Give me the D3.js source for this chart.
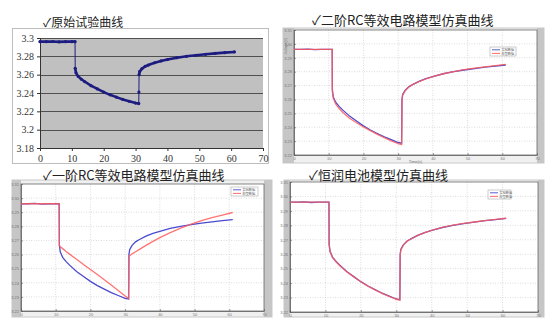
<!DOCTYPE html>
<html>
<head>
<meta charset="utf-8">
<script src="https://cdn.jsdelivr.net/npm/d3@7/dist/d3.min.js"></script>
<style>
  body { margin: 0; background: #fff; }
  svg { display: block; }
</style>
</head>
<body>
<div class="vis"></div>
<script>
// time (s), shared by every series
const timeS = [0, 2, 4, 6, 8, 10, 11, 11.05, 11.3, 12, 13, 14, 16, 18, 20, 22, 24, 26, 28, 30, 31,
  31.05, 31.1, 31.3, 32, 33, 34, 36, 38, 40, 43, 46, 49, 52, 55, 58, 61];
// 原始试验数据
const expVolt = [3.296, 3.296, 3.2962, 3.2958, 3.296, 3.296, 3.296, 3.267, 3.262, 3.258, 3.255, 3.2525,
  3.248, 3.2445, 3.241, 3.238, 3.2355, 3.233, 3.231, 3.229, 3.2285,
  3.241, 3.26, 3.2635, 3.2665, 3.269, 3.2705, 3.273, 3.275, 3.2765, 3.2785, 3.28, 3.2812, 3.2822,
  3.2832, 3.284, 3.2848];
// 二阶RC模型
const rc2Volt = [3.296, 3.296, 3.296, 3.296, 3.296, 3.296, 3.296, 3.266, 3.261, 3.2568, 3.2535, 3.2508,
  3.2465, 3.2432, 3.2402, 3.2375, 3.2348, 3.2325, 3.2302, 3.2282, 3.2275,
  3.24, 3.259, 3.263, 3.2662, 3.2688, 3.2705, 3.2728, 3.2748, 3.2764, 3.2785, 3.2801, 3.2814, 3.2825,
  3.2835, 3.2844, 3.2852];
// 一阶RC模型
const rc1Volt = [3.296, 3.296, 3.296, 3.296, 3.296, 3.296, 3.296, 3.2662, 3.2655, 3.2642, 3.2622, 3.2603,
  3.2566, 3.253, 3.2494, 3.2458, 3.2421, 3.2384, 3.2346, 3.2307, 3.2288,
  3.2588, 3.2589, 3.2592, 3.2605, 3.262, 3.2635, 3.2665, 3.2693, 3.272, 3.2755, 3.2787, 3.2815, 3.284,
  3.2862, 3.288, 3.2898];
// 恒润电池模型
const hrVolt = [3.296, 3.296, 3.296, 3.296, 3.296, 3.296, 3.296, 3.2665, 3.2618, 3.2578, 3.2548, 3.2522,
  3.2478, 3.2443, 3.2409, 3.2379, 3.2353, 3.2329, 3.2308, 3.2288, 3.2282,
  3.242, 3.2595, 3.2632, 3.2663, 3.2689, 3.2704, 3.2729, 3.2749, 3.2765, 3.2786, 3.2801, 3.2813, 3.2823,
  3.2833, 3.2841, 3.2849];

const xTicks = [0, 10, 20, 30, 40, 50, 60, 70];
const yTicksExcel = [3.18, 3.2, 3.22, 3.24, 3.26, 3.28, 3.3];
const yTicksSim = [3.22, 3.23, 3.24, 3.25, 3.26, 3.27, 3.28, 3.29, 3.3, 3.31];
const titles = ['✓原始试验曲线', '✓二阶RC等效电路模型仿真曲线', '✓一阶RC等效电路模型仿真曲线', '✓恒润电池模型仿真曲线'];
const legendNames = ['实验数据', '模型数据'];

const W = 554, H = 331;
const cjk = '"Noto Sans CJK SC", "DejaVu Sans", sans-serif';
const svg = d3.select('.vis').append('svg').attr('width', W).attr('height', H);

const pts = (vals) => timeS.map((t, i) => [t, vals[i]]);

// ---- panel 1: Excel style ----
function drawExcel() {
  const g = svg.append('g');
  g.append('rect').attr('x', 12.5).attr('y', 28.5).attr('width', 256).attr('height', 135)
    .attr('fill', '#fff').attr('stroke', '#bdbdbd');
  const x = d3.scaleLinear().domain([0, 70]).range([40, 263]);
  const y = d3.scaleLinear().domain([3.18, 3.3]).range([148, 38]);
  g.append('rect').attr('x', 40).attr('y', 38).attr('width', 223).attr('height', 110).attr('fill', '#c0c0c0');
  g.selectAll('line.grid').data(yTicksExcel.slice(1)).enter().append('line')
    .attr('x1', 40).attr('x2', 263).attr('y1', d => Math.round(y(d)) + 0.5).attr('y2', d => Math.round(y(d)) + 0.5)
    .attr('stroke', '#505050').attr('stroke-width', 1);

  const xa = g.append('g').attr('transform', 'translate(0,148)')
    .call(d3.axisBottom(x).tickValues(xTicks).tickSize(3).tickPadding(4));
  const ya = g.append('g').attr('transform', 'translate(40,0)')
    .call(d3.axisLeft(y).tickValues(yTicksExcel).tickSize(3).tickPadding(3).tickFormat(d3.format('')));
  [xa, ya].forEach(a => {
    a.select('.domain').attr('stroke', '#333');
    a.selectAll('.tick line').attr('stroke', '#333');
    a.selectAll('text').attr('font-family', '"Liberation Serif", "DejaVu Serif", serif')
      .attr('font-size', 10).attr('fill', '#333');
  });

  const data = pts(expVolt);
  const line = d3.line().x(d => x(d[0])).y(d => y(d[1]));
  g.append('path').attr('d', line(data)).attr('fill', 'none').attr('stroke', '#1c1c80').attr('stroke-width', 1);
  // thicker runs where consecutive samples are close (marker-dense look)
  const runs = [[]];
  data.forEach((d, i) => {
    if (i > 0 && Math.abs(d[1] - data[i - 1][1]) > 0.008) runs.push([]);
    runs[runs.length - 1].push(d);
  });
  runs.filter(r => r.length > 1).forEach(r => {
    g.append('path').attr('d', line(r)).attr('fill', 'none').attr('stroke', '#1c1c80')
      .attr('stroke-width', 2.6).attr('stroke-linecap', 'round');
  });
  g.selectAll('circle').data(data).enter().append('circle')
    .attr('cx', d => x(d[0])).attr('cy', d => y(d[1])).attr('r', 1.6).attr('fill', '#1c1c80');

  svg.append('text').attr('x', 43).attr('y', 27).attr('font-family', cjk).attr('font-size', 12)
    .attr('fill', '#222').text(titles[0]);
}

// ---- panels 2-4: MATLAB style ----
function drawSim(box, model, title, titlePos, axisLabels) {
  const g = svg.append('g');
  g.append('rect').attr('x', box.fx).attr('y', box.fy).attr('width', box.fw).attr('height', box.fh)
    .attr('fill', '#f0f0f0').attr('stroke', '#c8c8c8');
  g.append('rect').attr('x', box.fx).attr('y', box.fy).attr('width', box.l - box.fx).attr('height', box.fh)
    .attr('fill', '#c6c6c6');
  g.append('rect').attr('x', box.r).attr('y', box.fy).attr('width', box.fx + box.fw - box.r).attr('height', box.fh)
    .attr('fill', '#c6c6c6');

  const x = d3.scaleLinear().domain([0, 70]).range([box.l, box.r]);
  const y = d3.scaleLinear().domain([3.22, 3.31]).range([box.b, box.t]);
  g.append('rect').attr('x', box.l).attr('y', box.t).attr('width', box.r - box.l).attr('height', box.b - box.t)
    .attr('fill', '#fff');
  g.selectAll('line.vg').data(xTicks.slice(1, -1)).enter().append('line')
    .attr('x1', d => x(d)).attr('x2', d => x(d)).attr('y1', box.t).attr('y2', box.b)
    .attr('stroke', '#c4c4c4').attr('stroke-width', 0.6).attr('stroke-dasharray', '1,1.5');
  g.selectAll('line.hg').data(yTicksSim.slice(1, -1)).enter().append('line')
    .attr('x1', box.l).attr('x2', box.r).attr('y1', d => y(d)).attr('y2', d => y(d))
    .attr('stroke', '#c4c4c4').attr('stroke-width', 0.6).attr('stroke-dasharray', '1,1.5');

  const xa = g.append('g').attr('transform', `translate(0,${box.b})`)
    .call(d3.axisBottom(x).tickValues(xTicks).tickSizeInner(-2).tickSizeOuter(0).tickPadding(2));
  const ya = g.append('g').attr('transform', `translate(${box.l},0)`)
    .call(d3.axisLeft(y).tickValues(yTicksSim).tickSizeInner(-2).tickSizeOuter(0).tickPadding(2)
      .tickFormat(d3.format('.2f')));
  [xa, ya].forEach(a => {
    a.select('.domain').attr('stroke', '#555').attr('stroke-width', 0.7);
    a.selectAll('.tick line').attr('stroke', '#555').attr('stroke-width', 0.6);
    a.selectAll('text').attr('font-family', 'Arial, "Liberation Sans", sans-serif')
      .attr('font-size', 4).attr('fill', '#777');
  });
  g.append('rect').attr('x', box.l).attr('y', box.t).attr('width', box.r - box.l).attr('height', box.b - box.t)
    .attr('fill', 'none').attr('stroke', '#555').attr('stroke-width', 0.7);

  if (axisLabels) {
    g.append('text').attr('x', (box.l + box.r) / 2).attr('y', box.b + 8).attr('text-anchor', 'middle')
      .attr('font-family', 'Arial, sans-serif').attr('font-size', 4).attr('fill', '#777').text('Time(s)');
    g.append('text').attr('transform', `translate(${box.fx + 3.5},${box.t + 16}) rotate(-90)`)
      .attr('text-anchor', 'middle').attr('font-family', 'Arial, sans-serif').attr('font-size', 3.5)
      .attr('fill', '#777').text('Voltage(V)');
  }

  const line = d3.line().x(d => x(d[0])).y(d => y(d[1]));
  g.append('path').attr('d', line(pts(expVolt))).attr('fill', 'none').attr('stroke', '#4a4ad0')
    .attr('stroke-width', 1.3);
  g.append('path').attr('d', line(pts(model))).attr('fill', 'none').attr('stroke', '#ff5a5a')
    .attr('stroke-width', 1.3).attr('stroke-opacity', 0.85);

  // legend
  const lg = g.append('g').attr('transform', `translate(${box.lx},${box.ly})`);
  lg.append('rect').attr('width', box.lw).attr('height', 9).attr('fill', '#fff').attr('stroke', '#999')
    .attr('stroke-width', 0.5);
  ['#4a4ad0', '#ff5a5a'].forEach((c, i) => {
    lg.append('line').attr('x1', 2).attr('x2', 10).attr('y1', 2.8 + i * 3.6).attr('y2', 2.8 + i * 3.6)
      .attr('stroke', c).attr('stroke-width', 0.9);
    lg.append('text').attr('x', 11.5).attr('y', 4.1 + i * 3.6).attr('font-family', cjk).attr('font-size', 3.2)
      .attr('fill', '#666').text(legendNames[i]);
  });

  svg.append('text').attr('x', titlePos[0]).attr('y', titlePos[1]).attr('font-family', cjk).attr('font-size', 13)
    .attr('fill', '#222').text(title);
}

drawExcel();
drawSim({ fx: 283, fy: 28, fw: 261, fh: 135, l: 294, r: 537, t: 30, b: 155, lx: 490, ly: 47, lw: 26 },
  rc2Volt, titles[1], [312, 25], true);
drawSim({ fx: 12, fy: 180, fw: 260, fh: 137, l: 21, r: 264, t: 184, b: 311, lx: 231, ly: 187, lw: 27 },
  rc1Volt, titles[2], [43, 180], false);
drawSim({ fx: 284, fy: 180, fw: 260, fh: 137, l: 290, r: 538, t: 182, b: 312, lx: 488, ly: 190, lw: 23 },
  hrVolt, titles[3], [309, 180], false);
</script>
</body>
</html>
